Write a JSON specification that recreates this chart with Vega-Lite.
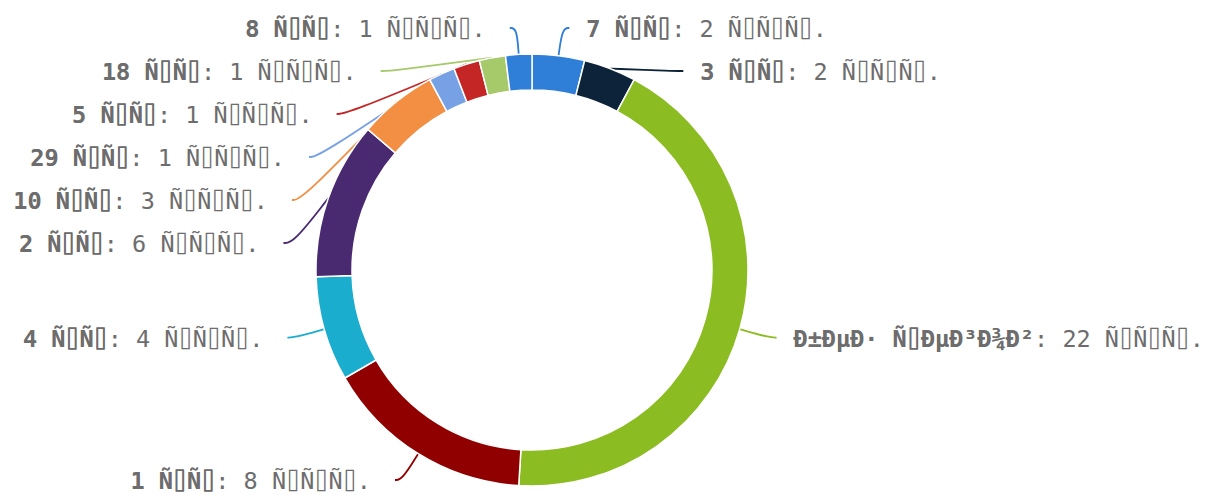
{
  "$schema": "https://vega.github.io/schema/vega-lite/v6.json",
  "width": 1216,
  "height": 494,
  "autosize": {"type": "none"},
  "padding": 0,
  "background": "white",
  "config": {"view": {"stroke": null}},
  "data": {
    "values": [
      {"order": 0, "name": "7 Ñ\u2337Ñ\u2337", "value": 2},
      {"order": 1, "name": "3 Ñ\u2337Ñ\u2337", "value": 2},
      {"order": 2, "name": "Ð±ÐµÐ· Ñ\u2337ÐµÐ³Ð¾Ð²", "value": 22},
      {"order": 3, "name": "1 Ñ\u2337Ñ\u2337", "value": 8},
      {"order": 4, "name": "4 Ñ\u2337Ñ\u2337", "value": 4},
      {"order": 5, "name": "2 Ñ\u2337Ñ\u2337", "value": 6},
      {"order": 6, "name": "10 Ñ\u2337Ñ\u2337", "value": 3},
      {"order": 7, "name": "29 Ñ\u2337Ñ\u2337", "value": 1},
      {"order": 8, "name": "5 Ñ\u2337Ñ\u2337", "value": 1},
      {"order": 9, "name": "18 Ñ\u2337Ñ\u2337", "value": 1},
      {"order": 10, "name": "8 Ñ\u2337Ñ\u2337", "value": 1}
    ]
  },
  "transform": [
    {"window": [{"op": "sum", "field": "value", "as": "cum"}], "sort": [{"field": "order"}], "frame": [null, 0]},
    {"joinaggregate": [{"op": "sum", "field": "value", "as": "total"}]},
    {"calculate": "2*PI*(datum.cum - datum.value/2)/datum.total", "as": "m"},
    {"calculate": "sin(datum.m) >= 0 ? 1 : -1", "as": "dir"},
    {"calculate": "-247*cos(datum.m)", "as": "yraw"},
    {"calculate": "max(datum.yraw, -242)", "as": "ynat"},
    {"window": [{"op": "row_number", "as": "k"}], "sort": [{"field": "yraw"}], "groupby": ["dir"]},
    {"calculate": "datum.ynat - 43*(datum.k-1)", "as": "v"},
    {"window": [{"op": "max", "field": "v", "as": "vmax"}], "sort": [{"field": "yraw"}], "groupby": ["dir"], "frame": [null, 0]},
    {"calculate": "datum.vmax + 43*(datum.k-1)", "as": "yl"},
    {"calculate": "abs(datum.yl - datum.yraw) >= 10", "as": "shifted"},
    {"calculate": "datum.shifted ? datum.dir*sqrt(max(62500 - datum.yl*datum.yl, 0)) : 247*sin(datum.m) + datum.dir*7", "as": "xe"},
    {"calculate": "datum.shifted ? datum.xe - datum.dir*10 : 247*sin(datum.m)", "as": "x1"},
    {"calculate": "216*sin(datum.m)", "as": "x0"},
    {"calculate": "-216*cos(datum.m)", "as": "y0"},
    {"calculate": "datum.name + ': ' + datum.value + ' Ñ\u2337Ñ\u2337Ñ\u2337.'", "as": "full"},
    {"calculate": "datum.dir > 0 ? datum.xe + 17 : datum.xe - 24 - 14.15*length(datum.full)", "as": "xt"}
  ],
  "layer": [
    {
      "transform": [
        {"calculate": "[0, 1, 2]", "as": "pts"},
        {"flatten": ["pts"], "as": ["p"]},
        {"calculate": "datum.p == 0 ? datum.x0 : (datum.p == 1 ? datum.x1 : datum.xe)", "as": "px"},
        {"calculate": "datum.p == 0 ? datum.y0 : datum.yl", "as": "py"}
      ],
      "mark": {"type": "line", "interpolate": "basis", "strokeWidth": 1.8},
      "encoding": {
        "x": {"field": "px", "type": "quantitative", "scale": {"domain": [-532, 684], "nice": false, "zero": false}, "axis": null},
        "y": {"field": "py", "type": "quantitative", "scale": {"domain": [-270, 224], "nice": false, "zero": false, "reverse": true}, "axis": null},
        "detail": {"field": "name"},
        "order": {"field": "p"},
        "color": {
          "field": "name", "type": "nominal", "legend": null,
          "scale": {
            "domain": ["7 Ñ\u2337Ñ\u2337", "3 Ñ\u2337Ñ\u2337", "Ð±ÐµÐ· Ñ\u2337ÐµÐ³Ð¾Ð²", "1 Ñ\u2337Ñ\u2337", "4 Ñ\u2337Ñ\u2337", "2 Ñ\u2337Ñ\u2337", "10 Ñ\u2337Ñ\u2337", "29 Ñ\u2337Ñ\u2337", "5 Ñ\u2337Ñ\u2337", "18 Ñ\u2337Ñ\u2337", "8 Ñ\u2337Ñ\u2337"],
            "range": ["#2f7ed8", "#0d233a", "#8bbc21", "#910000", "#1aadce", "#492970", "#f28f43", "#77a1e5", "#c42525", "#a6c96a", "#2f7ed8"]
          }
        }
      }
    },
    {
      "mark": {"type": "arc", "innerRadius": 180, "outerRadius": 216, "stroke": "white", "strokeWidth": 1.5},
      "encoding": {
        "x": {"datum": 0, "type": "quantitative", "scale": {"domain": [-532, 684], "nice": false, "zero": false}, "axis": null},
        "y": {"datum": 0, "type": "quantitative", "scale": {"domain": [-270, 224], "nice": false, "zero": false, "reverse": true}, "axis": null},
        "theta": {"field": "value", "type": "quantitative", "stack": true},
        "order": {"field": "order"},
        "color": {
          "field": "name", "type": "nominal", "legend": null,
          "scale": {
            "domain": ["7 Ñ\u2337Ñ\u2337", "3 Ñ\u2337Ñ\u2337", "Ð±ÐµÐ· Ñ\u2337ÐµÐ³Ð¾Ð²", "1 Ñ\u2337Ñ\u2337", "4 Ñ\u2337Ñ\u2337", "2 Ñ\u2337Ñ\u2337", "10 Ñ\u2337Ñ\u2337", "29 Ñ\u2337Ñ\u2337", "5 Ñ\u2337Ñ\u2337", "18 Ñ\u2337Ñ\u2337", "8 Ñ\u2337Ñ\u2337"],
            "range": ["#2f7ed8", "#0d233a", "#8bbc21", "#910000", "#1aadce", "#492970", "#f28f43", "#77a1e5", "#c42525", "#a6c96a", "#2f7ed8"]
          }
        }
      }
    },
    {
      "mark": {"type": "text", "align": "left", "baseline": "middle", "dy": 2, "font": "DejaVu Sans Mono", "fontSize": 23.5, "fontWeight": "normal", "color": "#6d6d6d"},
      "encoding": {
        "x": {"field": "xt", "type": "quantitative", "scale": {"domain": [-532, 684], "nice": false, "zero": false}, "axis": null},
        "y": {"field": "yl", "type": "quantitative", "scale": {"domain": [-270, 224], "nice": false, "zero": false, "reverse": true}, "axis": null},
        "text": {"field": "full"}
      }
    },
    {
      "mark": {"type": "text", "align": "left", "baseline": "middle", "dy": 2, "font": "DejaVu Sans Mono", "fontSize": 23.5, "fontWeight": "bold", "color": "#6d6d6d"},
      "encoding": {
        "x": {"field": "xt", "type": "quantitative", "scale": {"domain": [-532, 684], "nice": false, "zero": false}, "axis": null},
        "y": {"field": "yl", "type": "quantitative", "scale": {"domain": [-270, 224], "nice": false, "zero": false, "reverse": true}, "axis": null},
        "text": {"field": "name"}
      }
    }
  ]
}
